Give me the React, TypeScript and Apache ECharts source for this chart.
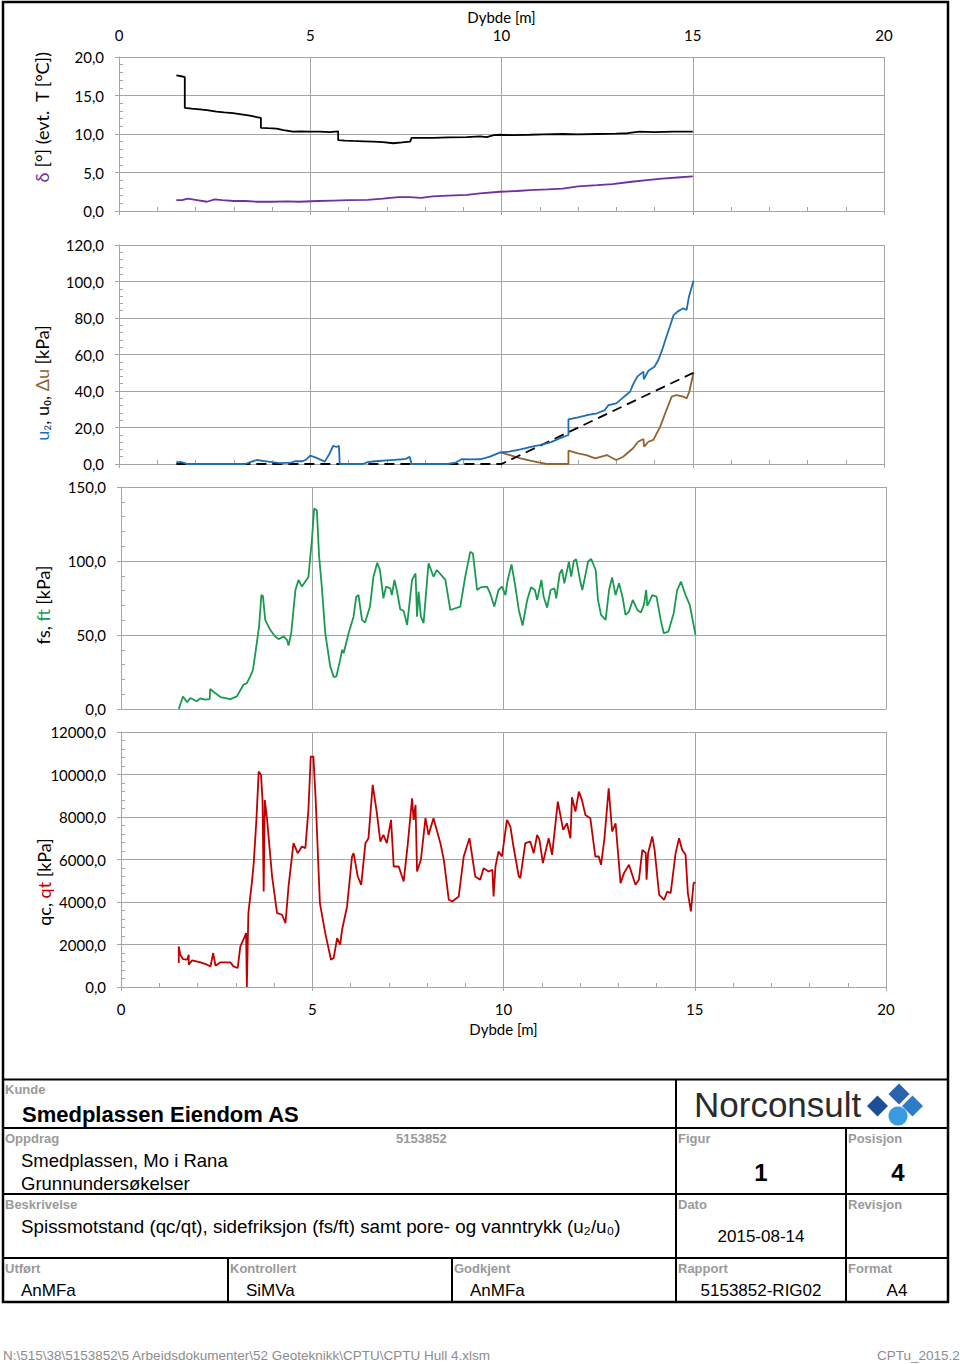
import React, { useEffect, useRef } from 'react';
import * as echarts from 'echarts';

// ---------- data (depth [m], value) ----------
const depthMin = 0;
const depthMax = 20;

const deltaData: [number, number][] = [
  [1.5, 1.4], [1.65, 1.4], [1.8, 1.6], [2.0, 1.45], [2.3, 1.2], [2.5, 1.5], [2.7, 1.4], [3.0, 1.3],
  [3.3, 1.3], [3.6, 1.2], [4.0, 1.2], [4.4, 1.25], [4.7, 1.2], [5.2, 1.3], [5.6, 1.35], [6.0, 1.4],
  [6.5, 1.45], [6.9, 1.6], [7.3, 1.8], [7.6, 1.8], [7.9, 1.7], [8.2, 1.9], [8.6, 2.0], [9.1, 2.1],
  [9.44, 2.3], [9.96, 2.5], [10.4, 2.6], [10.74, 2.7], [11.2, 2.8], [11.6, 2.9], [12.0, 3.2],
  [12.5, 3.35], [12.9, 3.5], [13.4, 3.8], [13.8, 4.0], [14.2, 4.2], [14.6, 4.35], [15.0, 4.5],
];

const tempData: [number, number][] = [
  [1.5, 17.6], [1.63, 17.5], [1.72, 17.4], [1.72, 13.4], [1.9, 13.3], [2.11, 13.2], [2.3, 13.1],
  [2.55, 12.9], [2.75, 12.8], [2.98, 12.7], [3.2, 12.55], [3.42, 12.4], [3.6, 12.2], [3.71, 12.1],
  [3.71, 10.8], [3.9, 10.75], [4.12, 10.7], [4.3, 10.5], [4.55, 10.3], [4.75, 10.35], [4.99, 10.3],
  [5.25, 10.3], [5.51, 10.25], [5.73, 10.35], [5.73, 9.2], [5.9, 9.15], [6.12, 9.1], [6.4, 9.05],
  [6.65, 9.0], [6.9, 8.95], [7.17, 8.8], [7.4, 8.9], [7.61, 9.0], [7.65, 9.5], [7.9, 9.5],
  [8.22, 9.5], [8.6, 9.55], [9.09, 9.6], [9.44, 9.7], [9.61, 9.6], [9.8, 9.85], [9.96, 9.9],
  [10.3, 9.85], [10.74, 9.9], [11.1, 9.95], [11.6, 10.0], [12.0, 9.95], [12.5, 10.0], [13.0, 10.05],
  [13.3, 10.1], [13.6, 10.3], [14.0, 10.25], [14.5, 10.3], [15.0, 10.3],
];

const u2Data: [number, number][] = [
  [1.5, 1.3], [1.55, 0.8], [1.6, 1.2], [1.7, 0.6], [1.75, 0.2], [1.8, 0], [3.3, 0], [3.45, 1.2],
  [3.6, 2.2], [3.8, 1.6], [4.0, 1.0], [4.2, 0.5], [4.5, 0.8], [4.6, 1.5], [4.8, 1.5], [4.9, 2.5],
  [5.0, 4.6], [5.15, 3.5], [5.38, 1.3], [5.5, 5.5], [5.6, 10], [5.68, 9.3], [5.75, 10], [5.77, 0],
  [6.38, 0], [6.5, 1.0], [6.7, 1.5], [7.0, 2.0], [7.2, 2.3], [7.4, 2.6], [7.5, 2.8], [7.6, 4.0],
  [7.65, 0], [8.04, 0], [8.6, 0], [8.8, 0.8], [8.96, 2.6], [9.2, 2.5], [9.44, 2.6], [9.7, 4.0],
  [9.97, 6.4], [10.2, 6.8], [10.5, 8.0], [10.8, 9.5], [11.0, 10.4], [11.3, 12.0], [11.5, 13.9],
  [11.75, 15.9], [11.75, 24.5], [12.0, 25.6], [12.3, 27.0], [12.5, 27.8], [12.7, 29.5], [12.8, 32.3],
  [13.0, 33.2], [13.1, 35.0], [13.36, 39.6], [13.45, 44.0], [13.55, 47.9], [13.71, 50.6],
  [13.72, 46.4], [13.84, 51.1], [14.0, 53.3], [14.1, 57.0], [14.2, 62.5], [14.3, 69.0], [14.4, 75.2],
  [14.5, 81.6], [14.6, 83.5], [14.75, 85.3], [14.84, 84.4], [14.9, 91.7], [15.02, 100.4],
];

const u0Data: [number, number][] = [
  [1.5, 0], [10.0, 0], [15.02, 50],
];

const duData: [number, number][] = [
  [9.97, 6.4], [10.22, 4.9], [10.5, 3.1], [10.75, 1.8], [11.0, 0.7], [11.18, 0], [11.49, 0],
  [11.75, 0], [11.75, 7.3], [12.0, 5.8], [12.22, 4.9], [12.45, 3.1], [12.75, 4.9], [13.0, 2.2],
  [13.18, 4.0], [13.44, 8.6], [13.57, 12.2], [13.71, 13.7], [13.73, 9.5], [13.84, 12.2],
  [13.97, 13.2], [14.15, 20.5], [14.28, 27.8], [14.45, 36.9], [14.58, 37.8], [14.75, 36.9],
  [14.84, 36.0], [14.91, 39.6], [15.02, 50],
];

const fsData: [number, number][] = [
  [1.51, 0], [1.62, 8.5], [1.73, 4.5], [1.81, 7.4], [1.98, 5.2], [2.07, 7.2], [2.2, 6.3], [2.32, 6.7],
  [2.33, 13.5], [2.46, 10.8], [2.6, 8.1], [2.86, 6.7], [3.03, 8.5], [3.2, 16.4], [3.29, 17.5],
  [3.38, 22], [3.45, 26.5], [3.55, 44.5], [3.61, 55.7], [3.67, 77], [3.71, 76.4], [3.77, 60.2],
  [3.9, 53.5], [4.03, 49], [4.12, 47.2], [4.25, 49], [4.34, 46.7], [4.38, 42.9], [4.45, 51.2],
  [4.56, 80.4], [4.64, 87.2], [4.73, 82.7], [4.86, 87.6], [4.9, 89.4], [4.99, 114], [5.05, 135.4],
  [5.12, 134.3], [5.18, 102.9], [5.25, 82.7], [5.34, 51.2], [5.47, 28.8], [5.56, 21.6], [5.63, 22],
  [5.73, 33.2], [5.78, 40], [5.82, 37.7], [5.95, 51.2], [6.08, 62.4], [6.15, 75.9], [6.21, 77],
  [6.3, 60.2], [6.38, 58.4], [6.51, 69.2], [6.6, 89.4], [6.7, 98.8], [6.77, 93.9], [6.86, 74.8],
  [6.93, 82.7], [7.04, 81.5], [7.08, 77], [7.15, 87.2], [7.21, 80.4], [7.3, 67.4], [7.39, 66.3],
  [7.48, 56.8], [7.61, 87.2], [7.7, 91.6], [7.74, 62.4], [7.78, 79.3], [7.84, 62.4], [7.91, 58],
  [8.04, 98.4], [8.17, 89.4], [8.26, 93.9], [8.48, 87.2], [8.61, 66.9], [8.87, 69.2], [9.0, 89.4],
  [9.13, 106.2], [9.2, 105.1], [9.31, 80.4], [9.4, 82.2], [9.57, 82.7], [9.65, 78.2], [9.76, 69.2],
  [9.87, 80.4], [9.96, 82.7], [10.05, 77], [10.11, 87.2], [10.21, 97.7], [10.31, 82.7], [10.4, 66.9],
  [10.5, 56.4], [10.62, 73.7], [10.72, 82.2], [10.82, 80.4], [10.88, 73.7], [10.99, 87.2],
  [11.05, 75.9], [11.14, 68.5], [11.23, 80.4], [11.33, 81.5], [11.38, 74.8], [11.47, 91.6],
  [11.53, 94.3], [11.59, 84.9], [11.71, 99.5], [11.77, 89.4], [11.84, 100.2], [11.9, 101.1],
  [12.0, 87.2], [12.06, 80.4], [12.15, 91.6], [12.21, 99.5], [12.29, 101.5], [12.41, 93.9],
  [12.47, 73.7], [12.55, 63.6], [12.67, 60.2], [12.76, 80.4], [12.84, 88.9], [12.93, 77],
  [13.02, 84.9], [13.11, 75.9], [13.19, 63.6], [13.28, 65.8], [13.38, 73.7], [13.5, 66.9],
  [13.59, 65.1], [13.67, 70.3], [13.73, 80.4], [13.76, 69.6], [13.89, 77], [14.0, 75.9],
  [14.11, 60.2], [14.19, 51.2], [14.31, 52.3], [14.45, 64.7], [14.54, 80.4], [14.64, 86],
  [14.76, 77], [14.87, 70.3], [15.02, 50.1],
];

const qcData: [number, number][] = [
  [1.51, 1128], [1.51, 1911], [1.55, 1520], [1.62, 1316], [1.73, 1285], [1.77, 1520], [1.77, 1050],
  [1.86, 1253], [2.08, 1160], [2.25, 1050], [2.34, 971], [2.41, 1598], [2.47, 1003], [2.6, 1160],
  [2.86, 1160], [2.94, 971], [3.05, 893], [3.12, 1911], [3.2, 2225], [3.27, 2538], [3.29, 0],
  [3.33, 3478], [3.42, 4888], [3.47, 5828], [3.54, 7864], [3.6, 10136], [3.66, 9980], [3.7, 8804],
  [3.73, 4496], [3.76, 8804], [3.82, 7864], [3.95, 5201], [4.08, 3478], [4.21, 3400], [4.3, 3008],
  [4.38, 4731], [4.51, 6768], [4.62, 6298], [4.73, 6611], [4.82, 6533], [4.9, 8334], [4.96, 10841],
  [5.03, 10841], [5.09, 8804], [5.2, 3948], [5.34, 2538], [5.49, 1285], [5.56, 1363], [5.65, 2303],
  [5.73, 1990], [5.78, 2695], [5.91, 3791], [6.04, 6141], [6.08, 6298], [6.19, 5201], [6.28, 4810],
  [6.39, 6768], [6.47, 7003], [6.58, 9509], [6.69, 8178], [6.78, 6846], [6.86, 7159], [6.95, 6768],
  [7.06, 7864], [7.13, 5671], [7.26, 5671], [7.39, 4966], [7.5, 6768], [7.61, 8883], [7.65, 7864],
  [7.7, 8569], [7.74, 5436], [7.84, 5984], [7.96, 7943], [8.04, 7159], [8.17, 7943], [8.35, 6768],
  [8.44, 5984], [8.57, 4104], [8.66, 4026], [8.83, 4261], [8.96, 6141], [9.11, 7003], [9.26, 5201],
  [9.39, 5044], [9.48, 5593], [9.61, 5436], [9.71, 5514], [9.74, 4261], [9.79, 5671], [9.87, 6376],
  [9.96, 6141], [10.09, 7864], [10.18, 7551], [10.26, 6611], [10.4, 5201], [10.44, 5123],
  [10.57, 6768], [10.7, 6846], [10.79, 6298], [10.88, 7159], [10.94, 6924], [11.03, 5828],
  [11.18, 7003], [11.27, 6219], [11.42, 8726], [11.56, 7394], [11.66, 7707], [11.75, 7003],
  [11.79, 8930], [11.88, 8256], [11.97, 9196], [12.05, 8804], [12.14, 8099], [12.27, 7943],
  [12.4, 6141], [12.49, 6141], [12.55, 5750], [12.64, 7003], [12.75, 9353], [12.84, 7316],
  [12.93, 7707], [13.06, 4888], [13.15, 5358], [13.28, 5750], [13.45, 4810], [13.54, 5044],
  [13.63, 6455], [13.72, 6298], [13.74, 5044], [13.78, 6298], [13.89, 7081], [13.95, 6455],
  [14.07, 4340], [14.2, 4104], [14.28, 4496], [14.37, 4418], [14.5, 6298], [14.59, 7003],
  [14.67, 6455], [14.76, 6219], [14.82, 4418], [14.9, 3556], [14.97, 4888], [15.02, 4919],
];

const depthLabel = 'Dybde [m]';

// ---------- styles ----------
const GRAY = '#a5a5a5';
const FONT = 'Lato, "Open Sans", sans-serif';
const TFONT = '"Liberation Sans", Arial, sans-serif';
const fmt1 = (v: number) => v.toFixed(1).replace('.', ',');

const grids = [
  { left: 119, top: 57, width: 765, height: 154 },
  { left: 119, top: 245, width: 765, height: 219 },
  { left: 121, top: 487, width: 765, height: 222 },
  { left: 121, top: 732, width: 765, height: 255 },
];

const yCfg = [
  { max: 20, interval: 5, minor: 1 },
  { max: 120, interval: 20, minor: 4 },
  { max: 150, interval: 50, minor: 10 },
  { max: 12000, interval: 2000, minor: 400 },
];

const lineGray = { lineStyle: { color: GRAY, width: 1 } };

function xMain(gridIndex: number, opts: any) {
  return {
    type: 'value', gridIndex, min: depthMin, max: depthMax, interval: 5,
    position: 'bottom',
    axisLine: { show: true, onZero: false, ...lineGray },
    axisTick: { show: true, inside: false, length: 4, ...lineGray },
    axisLabel: { show: false },
    splitLine: { show: true, ...lineGray },
    ...opts,
  };
}
function xMinor(gridIndex: number) {
  return {
    type: 'value', gridIndex, min: depthMin, max: depthMax, interval: 1, position: 'bottom',
    axisLine: { show: false, onZero: false },
    axisTick: { show: true, inside: true, length: 4, ...lineGray },
    axisLabel: { show: false }, splitLine: { show: false },
  };
}

const labelStyle = { color: '#000', fontFamily: FONT, fontSize: 15 };

const xAxes = [
  xMain(0, {
    position: 'top', axisLine: { show: false }, axisTick: { show: false },
    axisLabel: { show: true, margin: 15, ...labelStyle },
    name: depthLabel, nameLocation: 'middle', nameGap: 33,
    nameTextStyle: { ...labelStyle },
  }),
  xMain(0, { splitLine: { show: false } }),
  xMinor(0),
  xMain(1, {}),
  xMinor(1),
  xMain(2, { axisTick: { show: false } }),
  xMain(3, {
    axisLabel: { show: true, margin: 14, ...labelStyle },
    name: depthLabel, nameLocation: 'middle', nameGap: 34,
    nameTextStyle: { ...labelStyle },
  }),
  xMinor(3),
];

const yAxes: any[] = [];
yCfg.forEach((c, i) => {
  yAxes.push({
    type: 'value', gridIndex: i, min: 0, max: c.max, interval: c.interval, position: 'left',
    axisLine: { show: true, onZero: false, ...lineGray },
    axisTick: { show: true, inside: false, length: 4, ...lineGray },
    axisLabel: { show: true, margin: 15, formatter: (v: number) => fmt1(v), ...labelStyle },
    splitLine: { show: true, ...lineGray },
  });
  yAxes.push({
    type: 'value', gridIndex: i, min: 0, max: c.max, interval: c.minor, position: 'left',
    axisLine: { show: false, onZero: false },
    axisTick: { show: true, inside: true, length: 4, ...lineGray },
    axisLabel: { show: false }, splitLine: { show: false },
  });
});

function line(name: string, data: [number, number][], xi: number, yi: number, color: string, extra: any = {}) {
  return {
    name, type: 'line', data, xAxisIndex: xi, yAxisIndex: yi,
    showSymbol: false, symbol: 'none', silent: true,
    lineStyle: { color, width: 1.8, ...(extra.lineStyle || {}) },
    z: extra.z ?? 2,
  };
}

const series = [
  line('δ', deltaData, 0, 0, '#7030a0'),
  line('T', tempData, 0, 0, '#000000'),
  line('Δu', duData, 3, 2, '#93622e'),
  line('u0', u0Data, 3, 2, '#000000', { lineStyle: { type: [10, 6], width: 1.8 }, z: 3 }),
  line('u2', u2Data, 3, 2, '#1f6db3', { z: 4 }),
  line('fs/ft', fsData, 5, 4, '#1a9a50'),
  line('qc/qt', qcData, 6, 6, '#c00000'),
];

// ---------- graphics: axis titles, title block ----------
const nameFont = { fontFamily: FONT, fontSize: 18 };
function yName(x: number, y: number, text: string, rich: any) {
  const r: any = {};
  Object.keys(rich).forEach((k) => { r[k] = { ...nameFont, fill: rich[k] }; });
  return {
    type: 'text', x, y, rotation: Math.PI / 2, silent: true,
    style: { text, ...nameFont, fill: '#000', align: 'center', verticalAlign: 'middle', rich: r },
  };
}

const BLACK_LINE = { stroke: '#000', lineWidth: 2 };
function hline(y: number, x1: number, x2: number) {
  return { type: 'line', silent: true, shape: { x1, y1: y, x2, y2: y }, style: BLACK_LINE };
}
function vline(x: number, y1: number, y2: number) {
  return { type: 'line', silent: true, shape: { x1: x, y1, x2: x, y2 }, style: BLACK_LINE };
}
function label(x: number, y: number, text: string) {
  return {
    type: 'text', x, y, silent: true,
    style: { text, fontFamily: TFONT, fontSize: 13, fontWeight: 'bold', fill: '#9a9a9a', verticalAlign: 'middle' },
  };
}
function value(x: number, y: number, text: string, size: number, opts: any = {}) {
  return {
    type: 'text', x, y, silent: true,
    style: { text, fontFamily: TFONT, fontSize: size, fill: '#000', verticalAlign: 'middle', ...opts },
  };
}
function diamond(cx: number, cy: number, h: number, fill: string) {
  return {
    type: 'polygon', silent: true,
    shape: { points: [[cx, cy - h], [cx + h, cy], [cx, cy + h], [cx - h, cy]] },
    style: { fill },
  };
}

const FOOT = { fontFamily: TFONT, fontSize: 13.5, fill: '#8c8c8c', verticalAlign: 'middle' };

const graphics: any[] = [
  yName(42, 117, '{p|δ} [°] (evt.  T [°C])', { p: '#7030a0' }),
  yName(42, 383, '{b|u₂}, u₀, {r|Δu} [kPa]', { b: '#1f6db3', r: '#93622e' }),
  yName(43, 605, 'fs, {g|ft} [kPa]', { g: '#1a9a50' }),
  yName(44, 882, 'qc, {r|qt} [kPa]', { r: '#c00000' }),
  // outer frame
  { type: 'rect', silent: true, shape: { x: 3, y: 2, width: 945, height: 1300 }, style: { fill: 'none', stroke: '#000', lineWidth: 2.5 } },
  hline(1079.5, 3, 948),
  hline(1128, 3, 948),
  hline(1194, 3, 948),
  hline(1258, 3, 948),
  vline(676, 1079.5, 1302),
  vline(846, 1128, 1302),
  vline(228, 1258, 1302),
  vline(452, 1258, 1302),
  label(5, 1089, 'Kunde'),
  value(22, 1114, 'Smedplassen Eiendom AS', 22, { fontWeight: 'bold' }),
  label(5, 1138, 'Oppdrag'),
  label(396, 1138, '5153852'),
  value(21, 1160, 'Smedplassen, Mo i Rana', 18.5),
  value(21, 1183, 'Grunnundersøkelser', 18.5),
  label(5, 1204, 'Beskrivelse'),
  value(21, 1226, 'Spissmotstand (qc/qt), sidefriksjon (fs/ft) samt pore- og vanntrykk (u₂/u₀)', 18.8),
  label(5, 1268, 'Utført'),
  value(21, 1290, 'AnMFa', 17),
  label(230, 1268, 'Kontrollert'),
  value(246, 1290, 'SiMVa', 17),
  label(454, 1268, 'Godkjent'),
  value(470, 1290, 'AnMFa', 17),
  label(678, 1138, 'Figur'),
  value(761, 1172, '1', 24, { fontWeight: 'bold', align: 'center' }),
  label(848, 1138, 'Posisjon'),
  value(898, 1172, '4', 24, { fontWeight: 'bold', align: 'center' }),
  label(678, 1204, 'Dato'),
  value(761, 1236, '2015-08-14', 17, { align: 'center' }),
  label(848, 1204, 'Revisjon'),
  label(678, 1268, 'Rapport'),
  value(761, 1290, '5153852-RIG02', 17, { align: 'center' }),
  label(848, 1268, 'Format'),
  value(897, 1290, 'A4', 17, { align: 'center' }),
  // logo
  value(694, 1104, 'Norconsult', 35, { fill: '#2b2b2b' }),
  diamond(899, 1094, 10.5, '#2a62ad'),
  diamond(877.5, 1106, 10.5, '#1d4f97'),
  diamond(912.5, 1106, 10.5, '#2f7cc6'),
  { type: 'circle', silent: true, shape: { cx: 898, cy: 1116, r: 9.5 }, style: { fill: '#3a9be0' } },
  // footer
  {
    type: 'text', x: 3, y: 1355, silent: true,
    style: { text: 'N:\\515\\38\\5153852\\5 Arbeidsdokumenter\\52 Geoteknikk\\CPTU\\CPTU Hull 4.xlsm', ...FOOT },
  },
  {
    type: 'text', x: 877, y: 1355, silent: true,
    style: { text: 'CPTu_2015.2', ...FOOT },
  },
];

export default function App() {
  const ref = useRef<HTMLDivElement>(null);
  useEffect(() => {
    if (!ref.current) return;
    const chart = echarts.init(ref.current, undefined, { renderer: 'svg' });
    chart.setOption({
      animation: false,
      backgroundColor: '#ffffff',
      grid: grids.map((g) => ({ ...g, containLabel: false })),
      xAxis: xAxes,
      yAxis: yAxes,
      series,
      graphic: graphics,
    });
    return () => chart.dispose();
  }, []);
  return (
    <div
      ref={ref}
      style={{ position: 'absolute', left: 0, top: 0, width: 960, height: 1364, background: '#fff' }}
    />
  );
}
